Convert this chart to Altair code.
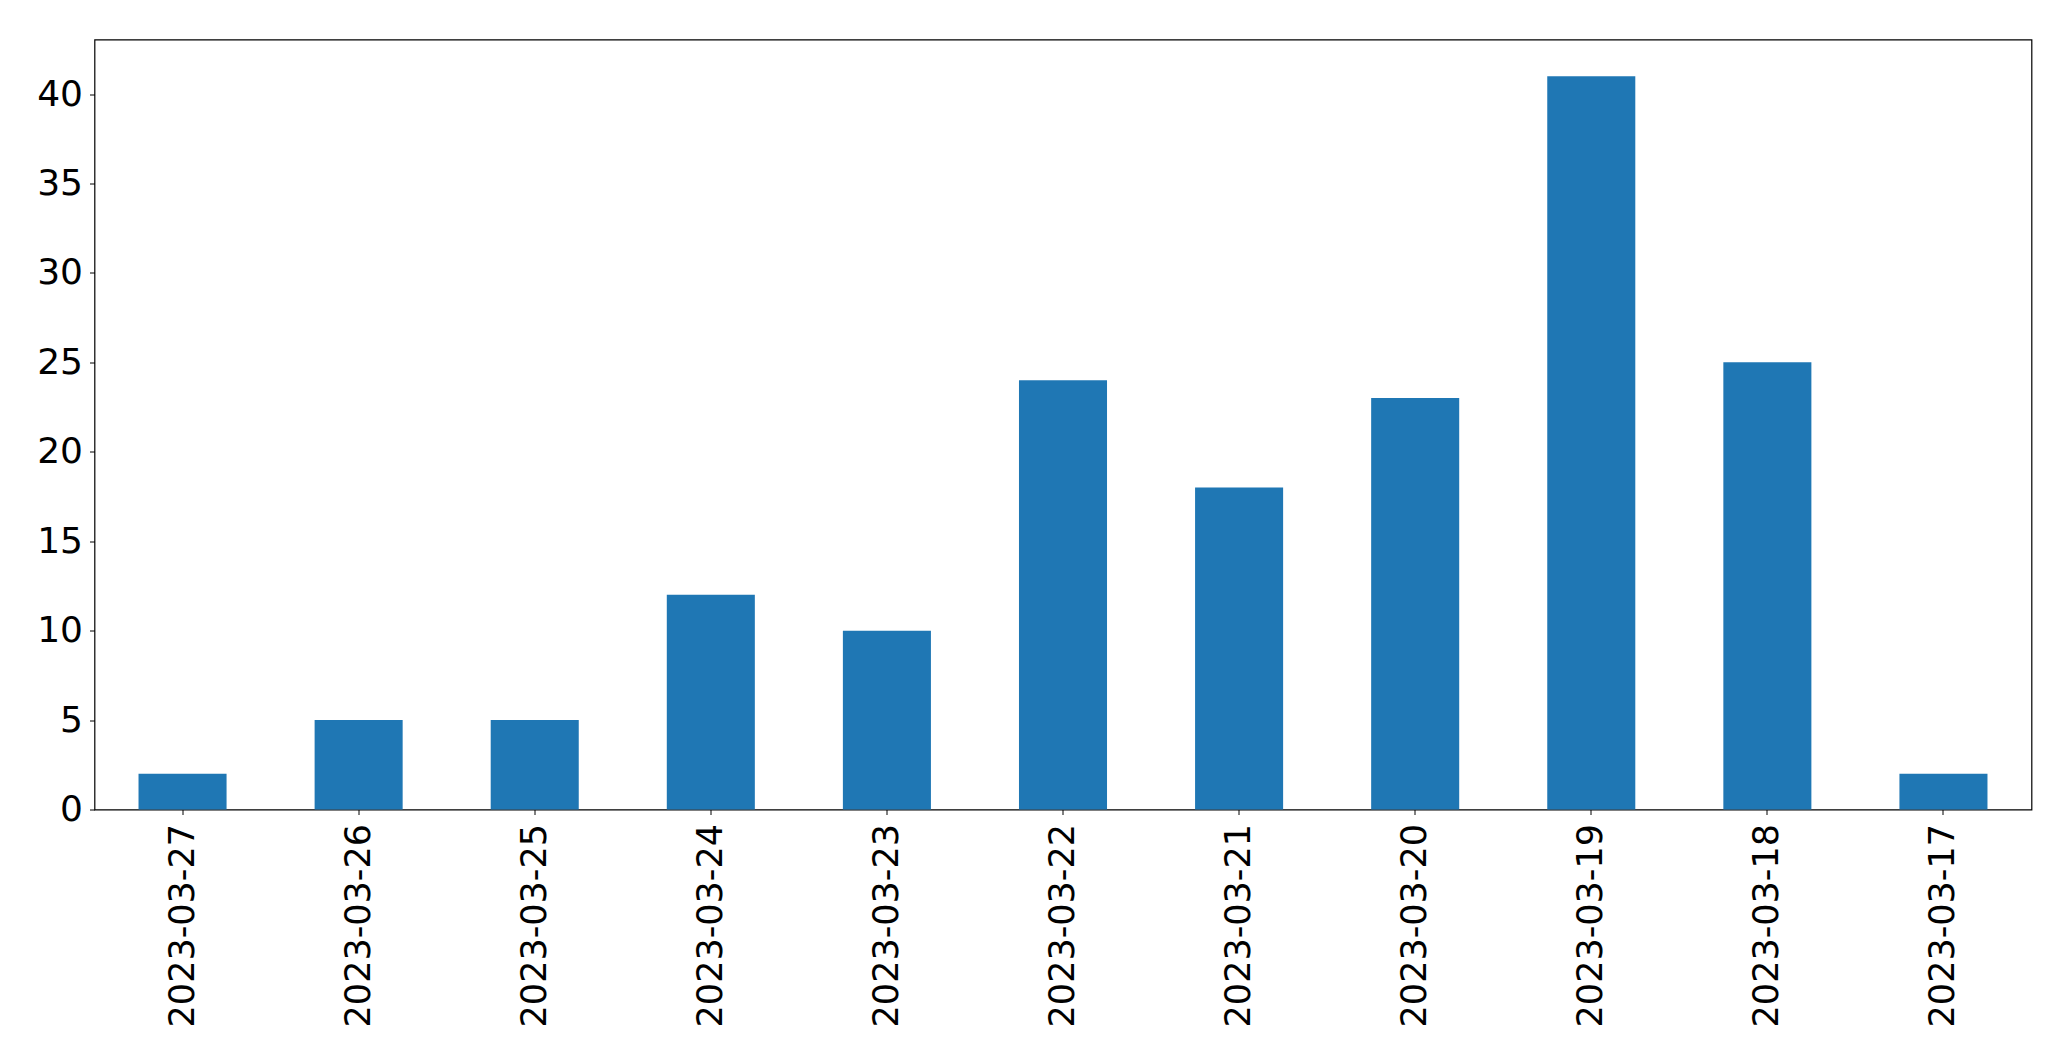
import altair as alt
import pandas as pd

dates = ["2023-03-27", "2023-03-26", "2023-03-25", "2023-03-24", "2023-03-23",
         "2023-03-22", "2023-03-21", "2023-03-20", "2023-03-19", "2023-03-18",
         "2023-03-17"]
counts = [2, 5, 5, 12, 10, 24, 18, 23, 41, 25, 2]
y_ticks = [0, 5, 10, 15, 20, 25, 30, 35, 40]

df = pd.DataFrame({"date": dates, "count": counts})

chart = alt.Chart(df).mark_bar(color="#1f77b4").encode(
    x=alt.X("date:N", sort=None, title=None,
            scale=alt.Scale(paddingInner=0.5, paddingOuter=0.25),
            axis=alt.Axis(labelAngle=-90, labelFontSize=35, labelFont="DejaVu Sans",
                          labelColor="black", tickColor="black", tickSize=5,
                          tickWidth=1, labelPadding=9, labelLimit=0,
                          domain=False, grid=False)),
    y=alt.Y("count:Q", title=None,
            scale=alt.Scale(domain=[0, 43.05], nice=False, zero=True),
            axis=alt.Axis(values=y_ticks, labelFontSize=36, labelFont="DejaVu Sans",
                          labelColor="black", tickColor="black", tickSize=5,
                          tickWidth=1, labelPadding=7, labelLimit=0,
                          domain=False, grid=False)),
).properties(
    width=1937, height=770,
    autosize=alt.AutoSizeParams(type="none"),
    padding={"left": 86.5, "top": 31.5, "right": 30, "bottom": 240},
).configure(
    background="white"
).configure_view(
    stroke="black", strokeWidth=1.2
)

chart.save("out.html", embed_options={"renderer": "svg", "actions": False})
